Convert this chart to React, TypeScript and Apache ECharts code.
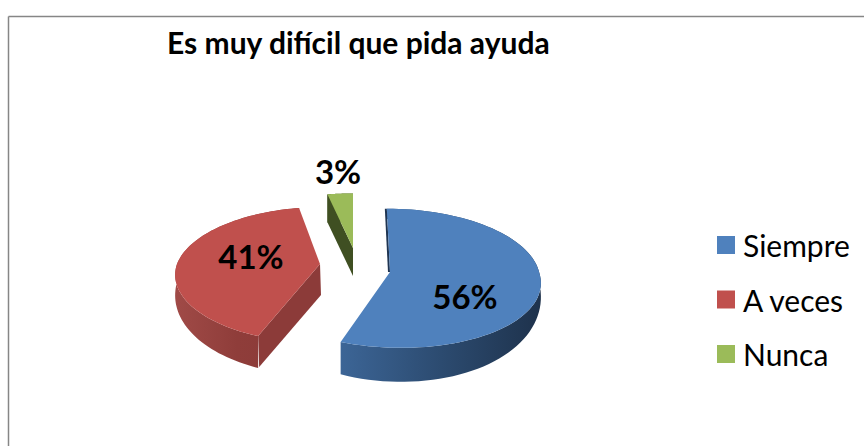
import React, { useEffect, useRef } from "react";
import * as echarts from "echarts";

const titleText = "Es muy difícil que pida ayuda";
const categories = ["Siempre", "A veces", "Nunca"];
const values = [56, 41, 3];
const topColors = ["#4F81BD", "#C0504D", "#9BBB59"];
const wallStops = [
  ["#3C6596", "#2C4B70", "#1E324C"],
  ["#A04A47", "#8F3D3A", "#8A3A38"],
  ["#4A5E28", "#4A5E28", "#4A5E28"],
];
const cutColors = ["#1F3552", "#8C3B39", "#3F4F22"];

// Projection of each exploded slice: ellipse, perspective, shear and thickness.
const geometry = [
  { cx: 390, cy: 272, a: 149, b: 69, p: 0.09, shearUp: 0.05, shearDown: 0.15, depth: 34, side: 0.3, cutDx: -2, cutDepth: 0, lx: 465, ly: 296 },
  { cx: 320, cy: 264, a: 143, b: 66, p: 0.16, shearUp: -0.04, shearDown: 0, depth: 33, side: 0.55, cutDx: 1, cutDepth: 31, lx: 251, ly: 256 },
  { cx: 353, cy: 248, a: 150, b: 60, p: 0.1, shearUp: 0, shearDown: 0, depth: 28, side: 1, cutDx: 0, cutDepth: 28, lx: 338, ly: 171 },
];

const total = values.reduce((s, v) => s + v, 0);
const startOf = (i: number) =>
  (values.slice(0, i).reduce((s, v) => s + v, 0) / total) * Math.PI * 2;

type G = (typeof geometry)[number];
const project = (g: G, t: number): [number, number] => {
  const z = Math.cos(t);
  const s = 1 / (1 + g.p * z);
  const dy = -g.b * z * s;
  const shear = dy < 0 ? g.shearUp : g.shearDown;
  return [g.cx + g.a * Math.sin(t) * s + shear * dy, g.cy + dy];
};
const wallDepth = (g: G, t: number) =>
  g.depth * (g.side + (1 - g.side) * Math.max(0, -Math.cos(t)));

const renderSlice = (i: number) => (_params: any, api: any) => {
  const g = geometry[i];
  const v = api.value(0) as number;
  const t0 = startOf(i);
  const t1 = t0 + (v / total) * Math.PI * 2;
  const arc: [number, number][] = [];
  const low: [number, number][] = [];
  const steps = 80;
  for (let k = 0; k <= steps; k++) {
    const t = t0 + ((t1 - t0) * k) / steps;
    const pt = project(g, t);
    arc.push(pt);
    low.unshift([pt[0], pt[1] + wallDepth(g, t)]);
  }
  const apex: [number, number] = [g.cx, g.cy];
  const first = arc[0];
  return {
    type: "group",
    children: [
      {
        type: "polygon",
        shape: { points: [...arc, ...low] },
        style: {
          fill: new echarts.graphic.LinearGradient(0, 0, 1, 0, [
            { offset: 0, color: wallStops[i][0] },
            { offset: 0.5, color: wallStops[i][1] },
            { offset: 1, color: wallStops[i][2] },
          ]),
        },
      },
      {
        type: "polygon",
        shape: {
          points: [
            first,
            apex,
            [apex[0] + g.cutDx, apex[1] + g.cutDepth],
            [first[0] + g.cutDx, first[1] + g.cutDepth],
          ],
        },
        style: { fill: cutColors[i] },
      },
      {
        type: "polygon",
        shape: { points: [apex, ...arc] },
        style: { fill: topColors[i] },
      },
      {
        type: "text",
        style: {
          x: g.lx,
          y: g.ly,
          text: `${Math.round((v / total) * 100)}%`,
          font: "bold 33px Lato",
          fill: "#000000",
          align: "center",
          verticalAlign: "middle",
        },
      },
    ],
  };
};

export default function App() {
  const ref = useRef<HTMLDivElement>(null);
  useEffect(() => {
    const chart = echarts.init(ref.current!, undefined, { renderer: "svg" });
    chart.setOption({
      animation: false,
      backgroundColor: "#ffffff",
      title: {
        text: titleText,
        left: 167,
        top: 24,
        textStyle: { fontFamily: "Lato", fontWeight: "bold", fontSize: 30, color: "#000000", lineHeight: 36 },
        padding: 0,
      },
      legend: {
        data: categories,
        orient: "vertical",
        left: 717,
        top: 230,
        padding: 0,
        icon: "rect",
        itemWidth: 18,
        itemHeight: 18,
        itemGap: 24.5,
        textStyle: { fontFamily: "Lato", fontSize: 30, color: "#000000", padding: [0, 0, 0, 3] },
      },
      graphic: [
        { type: "line", shape: { x1: 8.5, y1: 16.5, x2: 864, y2: 16.5 }, style: { stroke: "#868686", lineWidth: 1.5 } },
        { type: "line", shape: { x1: 8.5, y1: 16.5, x2: 8.5, y2: 446 }, style: { stroke: "#868686", lineWidth: 1.5 } },
      ],
      series: categories.map((name, i) => ({
        type: "custom",
        name,
        coordinateSystem: "none",
        itemStyle: { color: topColors[i] },
        data: [[values[i]]],
        renderItem: renderSlice(i),
        silent: true,
      })),
    });
    return () => chart.dispose();
  }, []);
  return (
    <div
      ref={ref}
      style={{ position: "fixed", left: 0, top: 0, width: 864, height: 446 }}
    />
  );
}
